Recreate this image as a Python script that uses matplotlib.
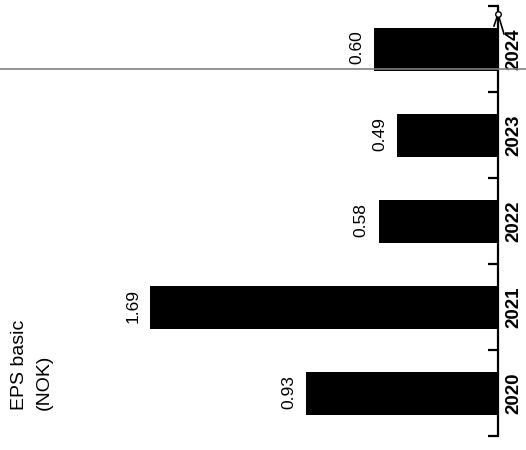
import matplotlib.pyplot as plt
from matplotlib.lines import Line2D

years = ['2020', '2021', '2022', '2023', '2024']
eps = [0.93, 1.69, 0.58, 0.49, 0.60]
labels = ['0.93', '1.69', '0.58', '0.49', '0.60']
title = 'EPS basic\n(NOK)'

plt.rcParams['font.family'] = ['Liberation Sans', 'DejaVu Sans']

W, H = 526, 450
fig = plt.figure(figsize=(W / 100, H / 100), dpi=100)
ax = fig.add_axes([0, (H - 436) / H, 498 / W, (436 - 6) / H])

pos = list(range(len(years)))
ax.barh(pos, eps, height=0.5, color='black')
ax.set_xlim(498 / 206, 0)
ax.set_ylim(-0.5, len(years) - 0.5)

for s in ['left', 'top', 'bottom']:
    ax.spines[s].set_visible(False)
ax.spines['right'].set_linewidth(1.6)

ax.set_xticks([])
ax.yaxis.tick_right()
ax.set_yticks(pos)
ax.set_yticklabels(years, rotation=90, va='center', fontweight='bold', fontsize=13.5)
ax.set_yticks([p - 0.5 for p in pos] + [len(years) - 0.5], minor=True)
ax.tick_params(axis='y', which='major', length=0, pad=5.5)
ax.tick_params(axis='y', which='minor', direction='in', length=7.5, width=1.6)

for p, v, t in zip(pos, eps, labels):
    ax.annotate(t, (v, p), xytext=(-7, 1), textcoords='offset points',
                rotation=90, ha='right', va='center', fontsize=12.5)

fig.text(11 / W, 40 / H, title, rotation=90, ha='left', va='bottom',
         multialignment='left', fontsize=14, linespacing=1.6)

# gray rule across the top bar's lower edge
fig.add_artist(Line2D([0, 1], [1 - 69 / H, 1 - 69 / H], color='#808080', lw=1.2))

# small marker glitch near the top of the axis
fig.add_artist(Line2D([494 / W, 498 / W, 504 / W], [1 - 26 / H, 1 - 14 / H, 1 - 34 / H],
                      color='black', lw=1.2))
fig.add_artist(Line2D([498 / W], [1 - 14 / H], marker='o', ms=4, mfc='white',
                      mec='black', mew=1, lw=0))

plt.savefig('out.png')
